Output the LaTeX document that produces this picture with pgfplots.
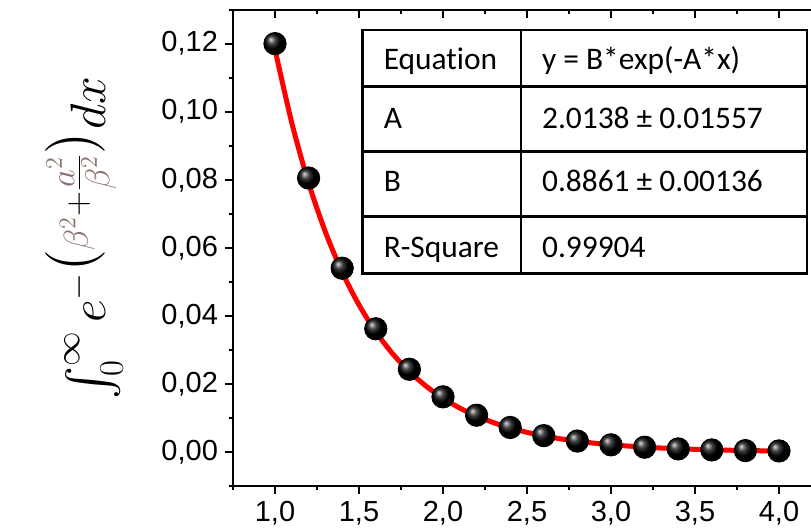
\documentclass[border=0pt]{standalone}
\usepackage{amsmath}
\usepackage[no-math]{fontspec}
\usepackage{pgfplots}
\pgfplotsset{compat=1.18}
\newfontfamily\arial{Liberation Sans}
\newfontfamily\calibri[Ligatures={NoCommon}]{Carlito}
\definecolor{betac}{RGB}{140,112,108}
\begin{document}
\begin{tikzpicture}
\pgfplotsset{
  common/.style={
    at={(0,0)}, anchor=south west,
    scale only axis, width=294pt, height=238.2pt,
    xmin=0.75, xmax=4.25, ymin=-0.01, ymax=0.13,
    axis line style={line width=1pt, black},
    every tick/.style={line width=1pt, black},
    major tick length=4pt, minor tick length=2pt,
    xtick={1,1.5,2,2.5,3,3.5,4},
    minor xtick={0.75,1.25,1.75,2.25,2.75,3.25,3.75,4.25},
  }
}
\begin{axis}[common,
  axis x line*=bottom, axis y line*=left,
  tick align=outside,
  ytick={0,0.02,0.04,0.06,0.08,0.1,0.12},
  minor ytick={-0.01,0.01,0.03,0.05,0.07,0.09,0.11,0.13},
  /pgf/number format/assume math mode=true,
  tick label style={font=\arial\fontsize{14.5}{17}\selectfont},
  x tick label style={/pgf/number format/.cd, fixed, fixed zerofill, precision=1, use comma},
  y tick label style={/pgf/number format/.cd, fixed, fixed zerofill, precision=2, use comma},
  clip=false,
]
\addplot[only marks, mark=ball, mark size=5.6pt, mark options={ball color=black}, ball color=black] coordinates {
(1.0,0.1200) (1.2,0.0805) (1.4,0.0540) (1.6,0.0362) (1.8,0.0243) (2.0,0.0162)
(2.2,0.0108) (2.4,0.0072) (2.6,0.0048) (2.8,0.0032) (3.0,0.0021) (3.2,0.0014)
(3.4,0.0009) (3.6,0.0006) (3.8,0.0004) (4.0,0.0003)};
\addplot[red, line width=2.5pt, smooth, no marks] coordinates {
(1.0,0.11829) (1.1,0.09672) (1.2,0.07907) (1.3,0.06465) (1.4,0.05285) (1.5,0.04321)
(1.6,0.03533) (1.7,0.02888) (1.8,0.02361) (1.9,0.01931) (2.0,0.01578) (2.1,0.01290)
(2.2,0.01055) (2.3,0.00863) (2.4,0.00705) (2.5,0.00577) (2.6,0.00472) (2.7,0.00386)
(2.8,0.00315) (2.9,0.00258) (3.0,0.00211) (3.2,0.00141) (3.4,0.00094) (3.6,0.00063)
(3.8,0.00042) (4.0,0.00028)};
% fit table
\draw[line width=1.2pt, black] (axis cs:1.522,0.05239) rectangle (axis cs:4.167,0.12409);
\draw[line width=1.2pt, black] (axis cs:2.464,0.05239) -- (axis cs:2.464,0.12409);
\draw[line width=1.2pt, black] (axis cs:1.522,0.10734) -- (axis cs:4.167,0.10734);
\draw[line width=1.2pt, black] (axis cs:1.522,0.08824) -- (axis cs:4.167,0.08824);
\draw[line width=1.2pt, black] (axis cs:1.522,0.06914) -- (axis cs:4.167,0.06914);
\begin{scope}[every node/.style={anchor=base west, inner sep=0pt, font=\calibri\fontsize{15.7}{18}\selectfont}]
\node at (axis cs:1.645,0.11233) {Equation};
\node at (axis cs:2.5875,0.11233) {y = B*exp(-A*x)};
\node at (axis cs:1.645,0.0952) {A};
\node at (axis cs:2.5875,0.0952) {2.0138 ± 0.01557};
\node at (axis cs:1.645,0.07657) {B};
\node at (axis cs:2.5875,0.07657) {0.8861 ± 0.00136};
\node at (axis cs:1.645,0.05723) {R-Square};
\node at (axis cs:2.5875,0.05723) {0.99904};
\end{scope}
\end{axis}
\begin{axis}[common,
  axis x line*=top, axis y line=none,
  xtick align=inside, xticklabels={}, ytick=\empty,
]
\end{axis}
\node[rotate=90, anchor=base, inner sep=0pt, font=\fontsize{25}{30}\selectfont] at (-63.5pt,124pt)
  {$\int_0^\infty e^{\smash[b]{-\bigl(\textcolor{betac}{\beta^2}+\frac{\scriptstyle\textcolor{betac}{a^2}}{\scriptstyle\textcolor{betac}{\beta^2}}\bigr)}}dx$};
\pgfresetboundingbox
\useasboundingbox (-116.5pt,-21pt) rectangle (289pt,243pt);
\end{tikzpicture}
\end{document}
